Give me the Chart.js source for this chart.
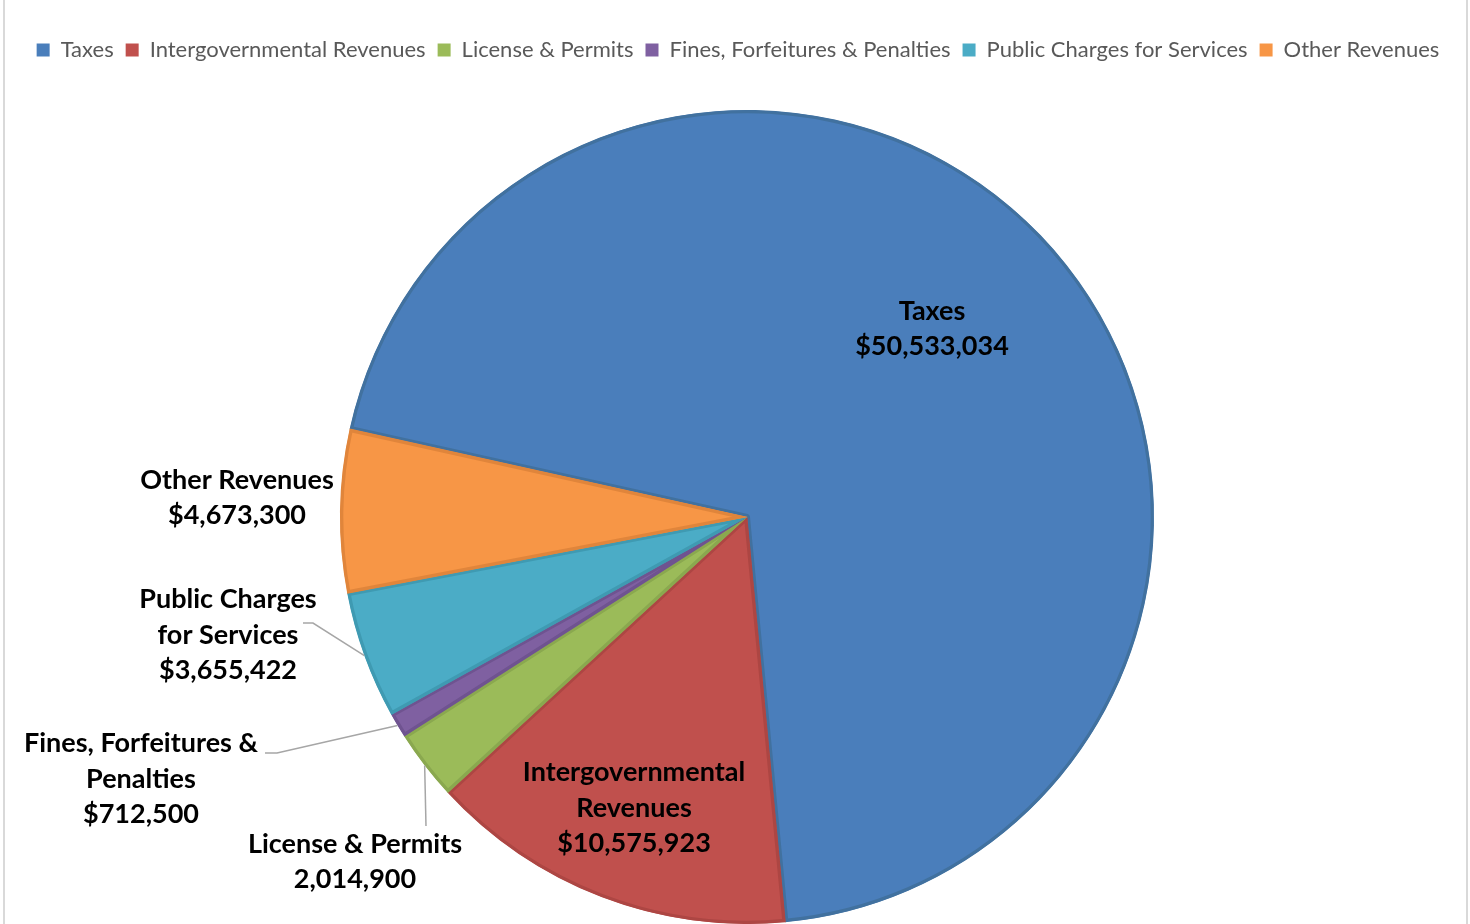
<!DOCTYPE html>
<html>
<head>
<meta charset="utf-8">
<title>General Fund Revenues</title>
<script src="https://cdn.jsdelivr.net/npm/chart.js@4.4.0/dist/chart.umd.min.js"></script>
<style>
  html, body { margin: 0; padding: 0; background: #fff; }
  #wrap { width: 1470px; height: 924px; position: relative; }
</style>
</head>
<body>
<div id="wrap"><canvas id="revenue_chart"></canvas></div>
<script>
const categories = ["Taxes", "Intergovernmental Revenues", "License & Permits", "Fines, Forfeitures & Penalties", "Public Charges for Services", "Other Revenues"];
const amounts = [50533034, 10575923, 2014900, 712500, 3655422, 4673300];

// how each slice name is broken over lines in its label
const labelLines = [["Taxes"], ["Intergovernmental", "Revenues"], ["License & Permits"], ["Fines, Forfeitures &", "Penalties"], ["Public Charges", "for Services"], ["Other Revenues"]];
const dollarSign = [true, true, false, true, true, true];

const fills = ['#4a7ebb', '#c0504d', '#9bbb59', '#7f60a1', '#4bacc6', '#f79646'];
const edges = ['#41719f', '#ad4643', '#8aa84f', '#6f5390', '#3f9ab2', '#e0853b'];

// label centres relative to the pie centre (px), leader lines run from the slice edge
const labelSpots = [
    {x: 185, y: -188},
    {x: -113, y: 291},
    {x: -392, y: 345, leader: [[-321, 309]]},
    {x: -606, y: 262, leader: [[-470, 236], [-482, 236]]},
    {x: -519, y: 118, leader: [[-434, 106], [-444, 106]]},
    {x: -510, y: -19}
];

const labelFont = "bold 27px Lato";
const labelLineHeight = 35.5;

function valueText(i) {
    return (dollarSign[i] ? "$" : "") + amounts[i].toLocaleString("en-US");
}

const frame = {
    id: 'frame',
    beforeDraw(chart) {
        const ctx = chart.ctx;
        ctx.save();
        ctx.strokeStyle = '#d9d9d9';
        ctx.lineWidth = 2;
        ctx.beginPath();
        ctx.moveTo(4, 0); ctx.lineTo(4, chart.height);
        ctx.moveTo(1467, 0); ctx.lineTo(1467, chart.height);
        ctx.stroke();
        ctx.restore();
    }
};

// give the legend extra room underneath so the pie sits lower,
// and keep the legend centred on the page rather than on the pie
const legendGap = {
    id: 'legendGap',
    beforeLayout(chart) {
        const legend = chart.legend;
        if (!legend || legend._gapped) return;
        const fit = legend.fit;
        legend.fit = function () {
            fit.call(this);
            this.height = 83;
        };
        legend._gapped = true;
    },
    afterLayout(chart) {
        const legend = chart.legend;
        if (!legend) return;
        legend.left -= 9;
        legend.right -= 9;
    }
};

const sliceLabels = {
    id: 'sliceLabels',
    afterDatasetsDraw(chart) {
        const ctx = chart.ctx;
        const arcs = chart.getDatasetMeta(0).data;
        ctx.save();
        arcs.forEach((arc, i) => {
            const p = arc.getProps(['x', 'y', 'outerRadius', 'startAngle', 'endAngle'], true);
            const spot = labelSpots[i];
            if (spot.leader) {
                const mid = (p.startAngle + p.endAngle) / 2;
                ctx.beginPath();
                ctx.moveTo(p.x + Math.cos(mid) * p.outerRadius, p.y + Math.sin(mid) * p.outerRadius);
                spot.leader.forEach(pt => ctx.lineTo(p.x + pt[0], p.y + pt[1]));
                ctx.strokeStyle = '#a6a6a6';
                ctx.lineWidth = 1.5;
                ctx.stroke();
            }
            const lines = labelLines[i].concat([valueText(i)]);
            ctx.font = labelFont;
            ctx.fillStyle = '#000';
            ctx.textAlign = 'center';
            ctx.textBaseline = 'middle';
            const top = p.y + spot.y - (lines.length - 1) * labelLineHeight / 2;
            lines.forEach((t, k) => ctx.fillText(t, p.x + spot.x, top + k * labelLineHeight));
        });
        ctx.restore();
    }
};

new Chart("revenue_chart", {
    type: "pie",
    data: {
        labels: categories,
        datasets: [{
            data: amounts,
            backgroundColor: fills,
            borderColor: edges,
            borderWidth: 3,
            borderAlign: 'inner'
        }]
    },
    options: {
        responsive: true,
        maintainAspectRatio: false,
        animation: false,
        rotation: -77.5,
        layout: {
            padding: {top: 27, left: 24, right: 0, bottom: 0}
        },
        plugins: {
            legend: {
                position: 'top',
                labels: {
                    font: {family: 'Lato', size: 22},
                    color: '#595959',
                    boxWidth: 13,
                    boxHeight: 13,
                    padding: 12,
                    generateLabels(chart) {
                        const items = Chart.overrides.pie.plugins.legend.labels.generateLabels(chart);
                        items.forEach(it => { it.lineWidth = 0; });
                        return items;
                    }
                }
            },
            tooltip: {enabled: false}
        }
    },
    plugins: [frame, legendGap, sliceLabels]
});
</script>
</body>
</html>
